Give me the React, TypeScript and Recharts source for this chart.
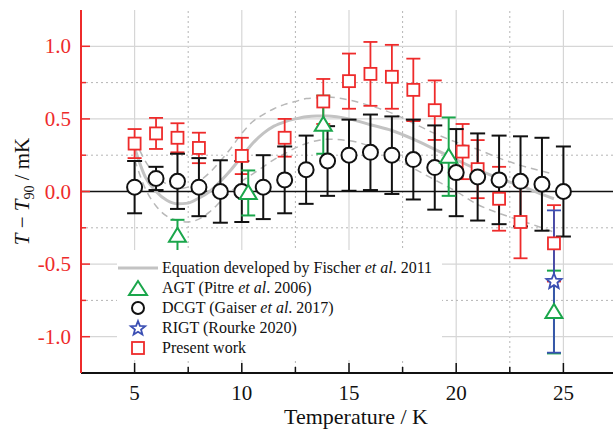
import React from 'react';
import {
  ComposedChart, Line, Scatter, ErrorBar, XAxis, YAxis, ReferenceLine, Legend, Label,
} from 'recharts';

const FONT = '"Liberation Serif", "Times New Roman", serif';
const RED = '#ee2b2b';
const GREEN = '#1aa64b';
const BLUE = '#3b4fb3';
const BLACK = '#111';
const CURVE = '#c3c3c3';

// DCGT (Gaiser et al. 2017)
const dcgtT = [5, 6, 7, 8, 9, 10, 11, 12, 13, 14, 15, 16, 17, 18, 19, 20, 21, 22, 23, 24, 25];
const dcgtDev = [0.03, 0.09, 0.07, 0.03, 0.0, 0.0, 0.03, 0.08, 0.15, 0.21, 0.25, 0.27, 0.25, 0.22, 0.165, 0.13, 0.1, 0.08, 0.07, 0.05, 0.0];
const dcgtErr = [0.18, 0.08, 0.19, 0.2, 0.215, 0.21, 0.22, 0.23, 0.235, 0.24, 0.245, 0.26, 0.267, 0.275, 0.29, 0.3, 0.3, 0.305, 0.31, 0.32, 0.31];

// Present work
const presentT = [5, 6, 7, 8, 10, 12, 13.8, 15, 16, 17, 18, 19, 20.3, 21, 22, 23, 24.56];
const presentDev = [0.33, 0.4, 0.37, 0.3, 0.245, 0.37, 0.62, 0.76, 0.81, 0.79, 0.7, 0.56, 0.275, 0.154, -0.05, -0.21, -0.357];
const presentErr = [0.1, 0.107, 0.1, 0.105, 0.125, 0.13, 0.155, 0.19, 0.22, 0.22, 0.215, 0.205, 0.19, 0.2, 0.22, 0.25, 0.263];

// AGT (Pitre et al. 2006)
const agtT = [7, 10.3, 13.8, 19.65, 24.56];
const agtDev = [-0.305, -0.01, 0.46, 0.24, -0.83];
const agtErr = [0.11, 0.155, 0.2, 0.27, 0.285];

// RIGT (Rourke 2020)
const rigtT = [24.56];
const rigtDev = [-0.62];
const rigtErr = [0.49];

// Fischer et al. 2011 equation and its uncertainty band
const fischerT = [5, 5.5, 6, 6.5, 7, 7.5, 8, 8.5, 9, 9.5, 10, 10.5, 11, 11.5, 12, 12.5, 13, 13.5, 14, 15, 16, 17, 18, 19, 20, 21, 22, 23, 24, 24.56];
const fischerMid = [0.3, 0.1, 0.0, -0.06, -0.085, -0.08, -0.045, 0.0, 0.07, 0.15, 0.24, 0.33, 0.4, 0.45, 0.48, 0.5, 0.515, 0.52, 0.52, 0.5, 0.46, 0.42, 0.36, 0.29, 0.22, 0.15, 0.09, 0.04, -0.02, -0.05];
const fischerUp = [0.36, 0.21, 0.11, 0.05, 0.02, 0.03, 0.07, 0.13, 0.21, 0.3, 0.4, 0.48, 0.53, 0.57, 0.6, 0.62, 0.64, 0.645, 0.65, 0.63, 0.59, 0.54, 0.47, 0.4, 0.34, 0.29, 0.23, 0.18, 0.14, 0.12];
const fischerLow = [0.22, 0.02, -0.1, -0.17, -0.2, -0.21, -0.19, -0.14, -0.07, 0.0, 0.07, 0.12, 0.17, 0.22, 0.26, 0.3, 0.33, 0.35, 0.36, 0.35, 0.31, 0.24, 0.16, 0.08, 0.0, -0.09, -0.15, -0.2, -0.25, -0.28];

const majorX = [5, 10, 15, 20, 25];
const minorX = [7.5, 12.5, 17.5, 22.5];
const majorY = [-1, -0.5, 0, 0.5, 1];
const minorY = [-0.75, -0.25, 0.25, 0.75];
const xTicks = [...majorX, ...minorX].sort((a, b) => a - b);
const yTicks = [...majorY, ...minorY].sort((a, b) => a - b);

const pts = (t: number[], v: number[], e: number[]) => t.map((x, i) => ({ t: x, v: v[i], e: e[i] }));
const dcgt = pts(dcgtT, dcgtDev, dcgtErr);
const present = pts(presentT, presentDev, presentErr);
const agt = pts(agtT, agtDev, agtErr);
const rigt = pts(rigtT, rigtDev, rigtErr);
const fischer = fischerT.map((t, i) => ({ t, mid: fischerMid[i], up: fischerUp[i], low: fischerLow[i] }));

const LeftTick = (p: any) => {
  const v = p.payload.value;
  const major = majorY.includes(v);
  const ax = p.x + 10;
  return (
    <g>
      <line x1={ax} x2={ax + (major ? 9 : 5)} y1={p.y} y2={p.y} stroke={RED} strokeWidth={1.5} />
      {major && (
        <text x={p.x} y={p.y} dy={7} textAnchor="end" fill={RED} fontSize={21} fontFamily={FONT}>
          {v.toFixed(1)}
        </text>
      )}
    </g>
  );
};

const RightTick = (p: any) => {
  const major = majorY.includes(p.payload.value);
  const ax = p.x - 10;
  return <line x1={ax} x2={ax - (major ? 10 : 6)} y1={p.y} y2={p.y} stroke={BLACK} strokeWidth={1.5} />;
};

const BottomTick = (p: any) => {
  const v = p.payload.value;
  const major = majorX.includes(v);
  const ay = p.y - 10;
  return (
    <g>
      <line x1={p.x} x2={p.x} y1={ay} y2={ay - (major ? 10 : 6)} stroke={BLACK} strokeWidth={1.5} />
      {major && (
        <text x={p.x} y={ay + 27} textAnchor="middle" fill={BLACK} fontSize={21} fontFamily={FONT}>
          {v}
        </text>
      )}
    </g>
  );
};

const XTitle = (p: any) => {
  const vb = p.viewBox;
  return (
    <text x={vb.x + vb.width / 2 + 7} y={424} textAnchor="middle" fill={BLACK} fontSize={22} fontFamily={FONT}>
      Temperature / K
    </text>
  );
};

const YTitle = (p: any) => {
  const vb = p.viewBox;
  const cx = vb.x + 22;
  const cy = vb.y + vb.height / 2;
  return (
    <text x={cx} y={cy} transform={`rotate(-90, ${cx}, ${cy})`} textAnchor="middle" dominantBaseline="central"
      fill={BLACK} fontSize={21} fontFamily={FONT}>
      <tspan fontStyle="italic">T</tspan>
      <tspan> − </tspan>
      <tspan fontStyle="italic">T</tspan>
      <tspan baselineShift="sub" fontSize={14}>90</tspan>
      <tspan> / mK</tspan>
    </text>
  );
};

const Circ = (p: any) => <circle cx={p.cx} cy={p.cy} r={7.5} fill="#fff" stroke={BLACK} strokeWidth={2} />;
const Sq = (p: any) => <rect x={p.cx - 6} y={p.cy - 6} width={12} height={12} fill="#fff" stroke={RED} strokeWidth={1.8} />;
const Tri = (p: any) => (
  <polygon points={`${p.cx},${p.cy - 8} ${p.cx - 8.5},${p.cy + 6} ${p.cx + 8.5},${p.cy + 6}`} fill="#fff" stroke={GREEN} strokeWidth={2} />
);
const starPoints = (cx: number, cy: number, ro: number, ri: number) => {
  const out: string[] = [];
  for (let i = 0; i < 10; i++) {
    const r = i % 2 === 0 ? ro : ri;
    const a = -Math.PI / 2 + (i * Math.PI) / 5;
    out.push(`${cx + r * Math.cos(a)},${cy + r * Math.sin(a)}`);
  }
  return out.join(' ');
};
const Star = (p: any) => <polygon points={starPoints(p.cx, p.cy, 8, 3.6)} fill="#fff" stroke={BLUE} strokeWidth={1.8} />;

const legendRows = [
  { label: <>Equation developed by Fischer <i>et al</i>. 2011</> },
  { label: <>AGT (Pitre <i>et al</i>. 2006)</> },
  { label: <>DCGT (Gaiser <i>et al</i>. 2017)</> },
  { label: <>RIGT (Rourke 2020)</> },
  { label: <>Present work</> },
];

const renderLegend = () => (
  <div style={{ position: 'relative', width: 325, height: 110, background: '#fff', fontFamily: FONT, fontSize: 16, color: BLACK }}>
    <svg width={325} height={110} style={{ position: 'absolute', left: 0, top: 0 }}>
      <line x1={1} x2={41} y1={18} y2={18} stroke={CURVE} strokeWidth={3} />
      <polygon points="21,31 12,45 30,45" fill="#fff" stroke={GREEN} strokeWidth={2} />
      <circle cx={21} cy={58} r={6} fill="#fff" stroke={BLACK} strokeWidth={2} />
      <polygon points={starPoints(21, 78.5, 7.5, 3.2)} fill="#fff" stroke={BLUE} strokeWidth={1.8} />
      <rect x={15} y={92} width={12} height={12} fill="#fff" stroke={RED} strokeWidth={1.8} />
    </svg>
    {legendRows.map((r, i) => (
      <div key={i} style={{ position: 'absolute', left: 45, top: 8 + i * 20, height: 20, lineHeight: '20px', whiteSpace: 'nowrap' }}>
        {r.label}
      </div>
    ))}
  </div>
);

export default function App() {
  return (
    <div style={{ position: 'absolute', left: 0, top: 0, width: 613, height: 430, overflow: 'hidden', background: '#fff' }}>
      <ComposedChart width={640} height={430} margin={{ top: 10, right: 3, bottom: 0, left: 0 }}>
        {majorX.map((v) => (
          <ReferenceLine key={`mx${v}`} x={v} stroke="#d6d6d6" strokeWidth={1.2} />
        ))}
        {minorX.map((v) => (
          <ReferenceLine key={`nx${v}`} x={v} stroke="#b5b5b5" strokeDasharray="2 3" />
        ))}
        {majorY.filter((v) => v !== 0).map((v) => (
          <ReferenceLine key={`my${v}`} y={v} stroke="#d6d6d6" strokeWidth={1.2} />
        ))}
        {minorY.map((v) => (
          <ReferenceLine key={`ny${v}`} y={v} stroke="#b5b5b5" strokeDasharray="2 3" />
        ))}
        <ReferenceLine y={0} stroke={BLACK} strokeWidth={1.6} />

        <XAxis type="number" dataKey="t" domain={[2.5, 27.5]} ticks={xTicks} interval={0} allowDataOverflow
          tickSize={10} tickMargin={0} tickLine={false} tick={<BottomTick />} height={57}
          axisLine={{ stroke: BLACK, strokeWidth: 2 }}>
          <Label content={<XTitle />} />
        </XAxis>
        <XAxis xAxisId="top" orientation="top" type="number" domain={[2.5, 27.5]} height={0}
          tick={false} tickLine={false} axisLine={{ stroke: BLACK, strokeWidth: 2 }} />
        <YAxis type="number" domain={[-1.25, 1.25]} ticks={yTicks} interval={0} allowDataOverflow width={81}
          tickSize={10} tickMargin={0} tickLine={false} tick={<LeftTick />}
          axisLine={{ stroke: RED, strokeWidth: 2 }}>
          <Label content={<YTitle />} />
        </YAxis>
        <YAxis yAxisId="right" orientation="right" type="number" domain={[-1.25, 1.25]} ticks={yTicks} interval={0}
          width={20} tickSize={10} tickMargin={0} tickLine={false} tick={<RightTick />}
          axisLine={{ stroke: BLACK, strokeWidth: 2 }} />

        <Line data={fischer} dataKey="up" type="monotone" stroke="#b8b8b8" strokeWidth={1.5} strokeDasharray="7 5" dot={false} isAnimationActive={false} />
        <Line data={fischer} dataKey="low" type="monotone" stroke="#b8b8b8" strokeWidth={1.5} strokeDasharray="7 5" dot={false} isAnimationActive={false} />
        <Line data={fischer} dataKey="mid" type="monotone" stroke={CURVE} strokeWidth={3} dot={false} isAnimationActive={false} />

        <Scatter data={present} dataKey="v" shape={Sq} isAnimationActive={false}>
          <ErrorBar dataKey="e" direction="y" width={7} stroke={RED} strokeWidth={1.8} />
        </Scatter>
        <Scatter data={dcgt} dataKey="v" shape={Circ} isAnimationActive={false}>
          <ErrorBar dataKey="e" direction="y" width={7.5} stroke={BLACK} strokeWidth={2} />
        </Scatter>
        <Scatter data={agt} dataKey="v" shape={Tri} isAnimationActive={false}>
          <ErrorBar dataKey="e" direction="y" width={7} stroke={GREEN} strokeWidth={2} />
        </Scatter>
        <Scatter data={rigt} dataKey="v" shape={Star} isAnimationActive={false}>
          <ErrorBar dataKey="e" direction="y" width={7} stroke={BLUE} strokeWidth={1.8} />
        </Scatter>

        <Legend content={renderLegend} layout="horizontal" verticalAlign="middle" align="center"
          wrapperStyle={{ left: 117, top: 250, width: 325, height: 110 }} />
      </ComposedChart>
    </div>
  );
}
